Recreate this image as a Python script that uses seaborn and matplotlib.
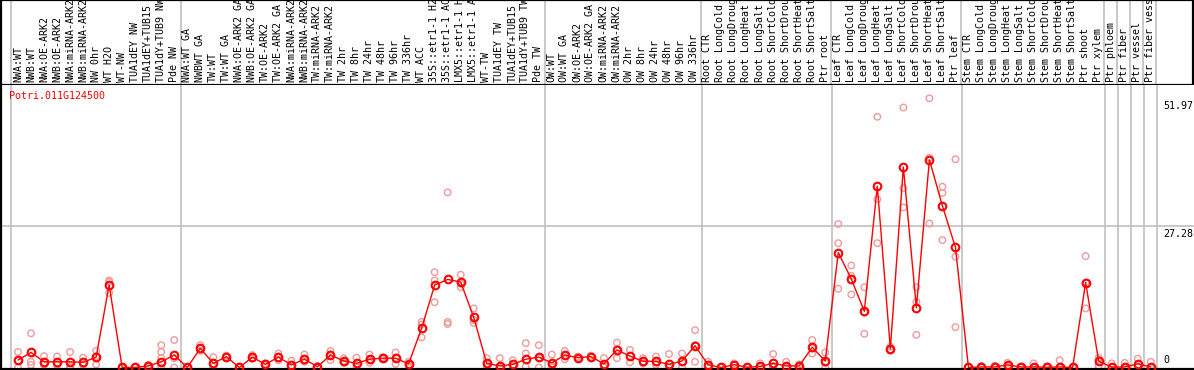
import numpy as np
import pandas as pd
import matplotlib
matplotlib.use("Agg")
import matplotlib.pyplot as plt
import matplotlib.transforms as mtransforms
import seaborn as sns

# sample labels, as shown on the chart
samples = [
    "NWA:WT", "NWB:WT", "NWA:OE-ARK2", "NWB:OE-ARK2", "NWA:miRNA-ARK2", "NWB:miRNA-ARK2",
    "NW 0hr", "WT H2O", "WT-NW", "TUA1dEY NW", "TUA1dEY+TUB15", "TUA1dY+TUB9 NW", "Pde NW",
    "NWA:WT GA", "NWBWT GA", "TW:WT", "TW:WT GA", "NWA:OE-ARK2 GA", "NWB:OE-ARK2 GA",
    "TW:OE-ARK2", "TW:OE-ARK2 GA", "NWA:miRNA-ARK2", "NWB:miRNA-ARK2", "TW:miRNA-ARK2",
    "TW:miRNA-ARK2", "TW 2hr", "TW 8hr", "TW 24hr", "TW 48hr", "TW 96hr", "TW 336hr",
    "WT ACC", "35S::etr1-1 H2", "35S::etr1-1 AC", "LMX5::etr1-1 H", "LMX5::etr1-1 A",
    "WT-TW", "TUA1dEY TW", "TUA1dEY+TUB15", "TUA1dY+TUB9 TW", "Pde TW",
    "OW:WT", "OW:WT GA", "OW:OE-ARK2", "OW:OE-ARK2 GA", "OW:miRNA-ARK2", "OW:miRNA-ARK2",
    "OW 2hr", "OW 8hr", "OW 24hr", "OW 48hr", "OW 96hr", "OW 336hr",
    "Root CTR", "Root LongCold", "Root LongDroug", "Root LongHeat", "Root LongSalt",
    "Root ShortCold", "Root ShortDrou", "Root ShortHeat", "Root ShortSalt", "Ptr root",
    "Leaf CTR", "Leaf LongCold", "Leaf LongDroug", "Leaf LongHeat", "Leaf LongSalt",
    "Leaf ShortCold", "Leaf ShortDrou", "Leaf ShortHeat", "Leaf ShortSalt", "Ptr leaf",
    "Stem CTR", "Stem LongCold", "Stem LongDroug", "Stem LongHeat", "Stem LongSalt",
    "Stem ShortCold", "Stem ShortDrou", "Stem ShortHeat", "Stem ShortSalt", "Ptr shoot",
    "Ptr xylem", "Ptr phloem", "Ptr fiber", "Ptr vessel", "Ptr fiber vess",
]

# mean expression per sample
means = [
    1.45, 2.9, 1.1, 1.1, 1.1, 1.0, 2.0, 15.9, 0.0, 0.0, 0.3, 1.1, 2.4,
    0.0, 3.7, 0.8, 2.1, 0.0, 2.0, 0.6, 2.0, 0.5, 1.6, 0.15, 2.4, 1.3, 0.8, 1.6, 1.8,
    1.8, 0.7, 7.6, 15.9, 17.0, 16.5, 9.7, 0.8, 0.3, 0.6, 1.6, 2.0,
    0.9, 2.4, 1.9, 2.1, 0.7, 3.4, 2.2, 1.2, 1.2, 0.6, 1.25, 4.2,
    0.55, 0.0, 0.55, 0.05, 0.2, 0.8, 0.3, 0.3, 3.9, 1.25,
    22.2, 17.1, 10.85, 35.0, 3.6, 38.7, 11.5, 40.1, 31.2, 23.2,
    0.0, 0.1, 0.1, 0.5, 0.1, 0.1, 0.05, 0.1, 0.0, 16.4, 1.25,
    0.05, 0.1, 0.7, 0.1,
]

# replicate values per sample
replicates = [
    [3.0, 1.3, 0.0], [6.6, 1.1, 0.5], [2.2, 0.6, 0.5], [2.1, 0.6, 0.5], [3.0, 0.3, 0.0],
    [1.9, 0.6, 0.5], [3.2, 2.2, 0.6], [16.8, 16.5, 14.4], [0.0, 0.0, 0.0], [0.0, 0.0, 0.0],
    [0.5, 0.3, 0.1], [4.3, 3.0, 1.8, 0.0], [5.3, 1.8, 0.0],
    [0.0, 0.0, 0.0], [4.3, 3.6, 3.2], [2.0, 0.2, 0.2], [2.3, 2.0, 2.0], [0.2, 0.0, 0.0],
    [2.4, 1.9, 1.7], [0.8, 0.6, 0.4], [2.7, 1.9, 1.4], [1.3, 0.2, 0.0], [2.5, 1.2, 1.1],
    [0.3, 0.1, 0.0], [3.2, 2.5, 1.4], [1.8, 1.2, 0.9], [1.9, 0.5, 0.0], [2.5, 1.5, 0.9],
    [2.0, 1.8, 1.6], [2.9, 1.9, 0.7], [1.1, 0.6, 0.3], [8.8, 8.3, 5.8], [18.4, 16.8, 12.6],
    [33.8, 8.8, 8.4], [17.9, 16.2, 15.5], [11.4, 9.2, 8.6], [1.8, 0.6, 0.0], [1.8, 0.0, 0.0],
    [1.4, 0.4, 0.1], [4.7, 2.7, 0.2], [4.3, 1.8, 0.0],
    [2.5, 0.3, 0.0], [3.2, 2.4, 1.6], [2.1, 1.9, 1.7], [2.3, 2.1, 1.9], [1.8, 0.3, 0.0],
    [4.8, 3.5, 1.8], [3.4, 2.2, 1.0], [1.8, 1.0, 0.8], [2.1, 1.0, 0.5], [2.6, 0.2, 0.0],
    [2.7, 1.0, 0.0], [7.2, 4.3, 1.1],
    [1.1, 0.4, 0.2], [0.1, 0.0, 0.0], [0.8, 0.5, 0.4], [0.1, 0.0, 0.0], [0.8, 0.1, 0.0],
    [2.6, 0.3, 0.0], [1.1, 0.2, 0.0], [0.6, 0.2, 0.1], [5.3, 3.7, 2.7], [2.9, 0.9, 0.0],
    [27.7, 24.0, 15.2], [19.7, 17.7, 14.1], [15.5, 10.6, 6.5], [48.4, 32.5, 24.0],
    [4.0, 3.5, 3.3], [50.2, 34.6, 30.9], [15.5, 12.7, 6.3], [51.97, 40.5, 27.8],
    [34.9, 33.7, 24.6], [40.2, 21.4, 7.8],
    [0.1, 0.0, 0.0], [0.3, 0.1, 0.0], [0.3, 0.1, 0.0], [0.9, 0.4, 0.2], [0.2, 0.1, 0.0],
    [0.8, 0.0, 0.0], [0.2, 0.0, 0.0], [1.4, 0.0, 0.0], [0.0, 0.0, 0.0], [21.5, 16.4, 11.4],
    [1.9, 1.5, 0.3], [0.8, 0.0, 0.0], [0.9, 0.0, 0.0], [1.7, 0.3, 0.1], [1.1, 0.0, 0.0],
]

# group separators sit between these sample indices
group_breaks = [-0.5, 12.5, 40.5, 52.5, 62.5, 72.5, 83.5, 84.5, 85.5, 86.5, 87.5]
y_labels = [51.97, 27.28, 0]
y_top = 54.54
gene = "Potri.011G124500"

# long form tables for seaborn
mean_df = pd.DataFrame({"pos": np.arange(len(samples)), "value": means})
rep_df = pd.DataFrame(
    [(i, v) for i, reps in enumerate(replicates) for v in reps],
    columns=["pos", "value"],
)

sns.set_style("white")
plt.rcParams["font.family"] = ["DejaVu Sans Mono"]
mono = 7.2

W, H = 1194, 370
fig = plt.figure(figsize=(W / 100, H / 100), dpi=100)
ax_lab = fig.add_axes([1 / W, 1 - 85 / H, 1 - 2 / W, 85 / H])
ax = fig.add_axes([1 / W, 1 / H, 1 - 1 / W, (369 - 85) / H], sharex=ax_lab)

xmin = (1 - 18) / 13.02
xmax = (W - 18) / 13.02
ax.set_xlim(xmin, xmax)
ax.set_ylim(-0.29, y_top)

# separators and the middle gridline
for b in group_breaks:
    ax.axvline(b, color="#c0c0c0", lw=1.2, zorder=0)
    ax_lab.axvline(b, color="#c0c0c0", lw=1.2, zorder=0)
ax.axhline(y_labels[1], color="#c0c0c0", lw=1.2, zorder=0)

# replicates, then the mean line on top
sns.scatterplot(data=rep_df, x="pos", y="value", ax=ax, marker="o", s=22,
                facecolors="none", edgecolor="#ee9a9a", linewidth=1.0, zorder=2,
                legend=False)
sns.lineplot(data=mean_df, x="pos", y="value", ax=ax, color="red", lw=1.0,
             marker="o", markersize=5.5, markerfacecolor="none",
             markeredgecolor="red", markeredgewidth=1.5, zorder=3, legend=False)

ax.set_xlabel("")
ax.set_ylabel("")
ax.set_xticks([])
ax.set_yticks([])
for side in ["left", "bottom"]:
    ax.spines[side].set_color("black")
    ax.spines[side].set_linewidth(1.6)
ax.spines["right"].set_visible(False)
ax.spines["top"].set_visible(False)

# y value labels on the right
xt = (1163 - 1) / (W - 1)
for v in y_labels:
    if v == 0:
        tr = mtransforms.offset_copy(ax.get_yaxis_transform(), fig=fig, x=0, y=2, units="points")
        va = "bottom"
    else:
        tr = mtransforms.offset_copy(ax.get_yaxis_transform(), fig=fig, x=0, y=-2, units="points")
        va = "top"
    ax.text(xt, v, f"{v:g}" if v == 0 else f"{v:.2f}", transform=tr, ha="left",
            va=va, fontsize=mono, color="black")

# gene name
ax.text(8 / W, 0.961, gene, transform=ax.transAxes, color="red", fontsize=mono,
        ha="left", va="center")

# sample names in the strip above
ax_lab.set_ylim(0, 1)
ax_lab.set_xticks([])
ax_lab.set_yticks([])
for i, name in enumerate(samples):
    ax_lab.text(i, 3 / 85, name, rotation=90, ha="center", va="bottom",
                fontsize=mono, color="black", clip_on=True)
for side in ["left", "right", "bottom", "top"]:
    ax_lab.spines[side].set_color("black")
    ax_lab.spines[side].set_linewidth(1.6)

fig.savefig("out.png", dpi=100)
